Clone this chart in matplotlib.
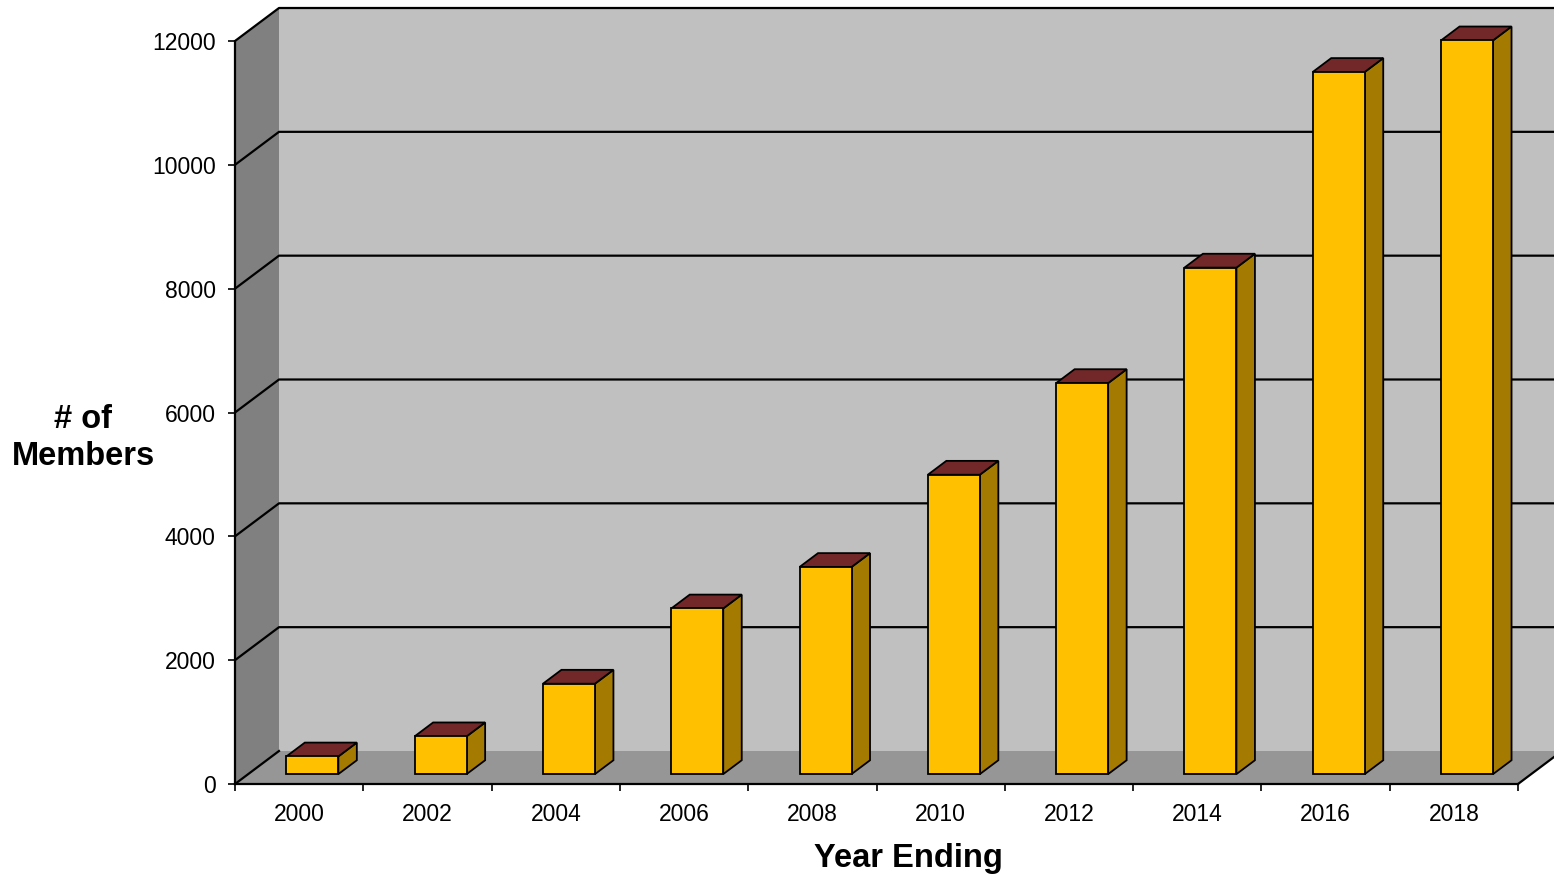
### Membership growth chart drawn as an Excel-style 3D column chart.
# The 3D look is faked with flat polygons on a normal 2D axes.

import matplotlib
matplotlib.use("Agg")
import matplotlib.pyplot as plt
from matplotlib.patches import Polygon

plt.rcParams['font.family'] = ['Liberation Sans', 'DejaVu Sans']

# Data
years = ["2000", "2002", "2004", "2006", "2008", "2010", "2012", "2014", "2016", "2018"]
members = [285, 610, 1460, 2675, 3345, 4835, 6315, 8180, 11340, 11850]
y_ticks = [0, 2000, 4000, 6000, 8000, 10000, 12000]

# Colours
FRONT = "#FFC000"
SIDE = "#A47A00"
TOP = "#722828"
BACK_WALL = "#C0C0C0"
SIDE_WALL = "#808080"
FLOOR = "#969696"

# Geometry (px -> data units)
W_PX, H_PX = 1554, 876
X0_PX, X10_PX = 235, 1518          # front axis ends
Y0_PX, Y12K_PX = 784, 41           # front axis 0 and 12000
px_cat = (X10_PX - X0_PX) / len(years)
px_val = (Y0_PX - Y12K_PX) / 12000
DX = 44 / px_cat                   # depth offset of the back wall
DY = 33 / px_val
BAR_W = 52 / px_cat
F0, F1 = 0.30, 0.72                # bar front / back depth fraction

fig = plt.figure(figsize=(W_PX / 100, H_PX / 100), dpi=100)
ax = fig.add_axes([X0_PX / W_PX, (H_PX - Y0_PX) / H_PX,
                   (W_PX - X0_PX) / W_PX, Y0_PX / H_PX])
xmax = (W_PX - X0_PX) / px_cat
ymax = Y0_PX / px_val
ax.set_xlim(0, xmax)
ax.set_ylim(0, ymax)
ax.set_facecolor("none")

n = len(years)
top = y_ticks[-1]
lw = 1.6

# walls and floor
ax.add_patch(Polygon([(DX, DY), (xmax + 1, DY), (xmax + 1, top + DY), (DX, top + DY)],
                     closed=True, facecolor=BACK_WALL, edgecolor="none", zorder=1))
ax.add_patch(Polygon([(0, 0), (0, top), (DX, top + DY), (DX, DY)],
                     closed=True, facecolor=SIDE_WALL, edgecolor="none", zorder=1))
ax.add_patch(Polygon([(0, 0), (n, 0), (n + DX, DY), (DX, DY)],
                     closed=True, facecolor=FLOOR, edgecolor="none", zorder=1))

# gridlines on left + back wall
for v in y_ticks[1:]:
    ax.plot([0, DX, xmax + 1], [v, v + DY, v + DY], color="black", lw=lw,
            zorder=2, solid_capstyle="butt")
ax.plot([0, DX], [0, DY], color="black", lw=lw, zorder=2)
ax.plot([n, n + DX], [0, DY], color="black", lw=lw, zorder=2, clip_on=False)

# bars
for i, v in enumerate(members):
    x0 = i + 0.5 - BAR_W / 2 + F0 * DX
    x1 = x0 + BAR_W
    y0 = F0 * DY
    y1 = v + F0 * DY
    ddx = (F1 - F0) * DX
    ddy = (F1 - F0) * DY
    ax.add_patch(Polygon([(x0, y0), (x1, y0), (x1, y1), (x0, y1)], closed=True,
                         facecolor=FRONT, edgecolor="black", lw=1.3, zorder=4,
                         joinstyle="miter"))
    ax.add_patch(Polygon([(x1, y0), (x1 + ddx, y0 + ddy), (x1 + ddx, y1 + ddy), (x1, y1)],
                         closed=True, facecolor=SIDE, edgecolor="black", lw=1.3, zorder=3,
                         joinstyle="miter"))
    ax.add_patch(Polygon([(x0, y1), (x1, y1), (x1 + ddx, y1 + ddy), (x0 + ddx, y1 + ddy)],
                         closed=True, facecolor=TOP, edgecolor="black", lw=1.3, zorder=3,
                         joinstyle="miter"))

# axes
for s in ["top", "right"]:
    ax.spines[s].set_visible(False)
ax.spines["left"].set_bounds(0, top)
ax.spines["bottom"].set_bounds(0, n)
ax.spines["left"].set_linewidth(lw)
ax.spines["bottom"].set_linewidth(lw)
ax.spines["left"].set_zorder(5)
ax.spines["bottom"].set_zorder(5)

ax.set_yticks(y_ticks)
ax.set_yticklabels([str(t) for t in y_ticks], fontsize=16.5)
ax.tick_params(axis="y", direction="out", length=5, width=1.2, pad=9)

ax.set_xticks(range(n + 1))
ax.set_xticklabels([""] * (n + 1))
ax.set_xticks([i + 0.5 for i in range(n)], minor=True)
ax.set_xticklabels(years, minor=True, fontsize=16.5)
ax.tick_params(axis="x", which="major", direction="out", length=5, width=1.2)
ax.tick_params(axis="x", which="minor", length=0, pad=14)

fig.text(83 / W_PX, 1 - 438 / H_PX, "# of\nMembers", fontsize=23.5, fontweight="bold",
         ha="center", va="center", linespacing=1.25)
fig.text(908 / W_PX, 1 - 859 / H_PX, "Year Ending", fontsize=23.5, fontweight="bold",
         ha="center", va="center")

fig.savefig("out.png", dpi=100)
